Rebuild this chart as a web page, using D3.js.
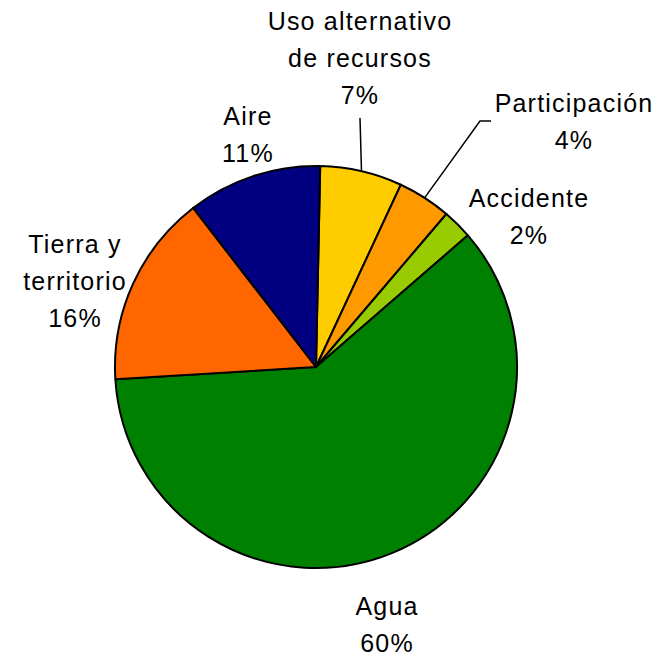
<!DOCTYPE html>
<html>
<head>
<meta charset="utf-8">
<script src="https://cdn.jsdelivr.net/npm/d3@7"></script>
<style>
    body { margin: 0; background: #fff; }
    svg text { font-family: "Liberation Sans", Arial, sans-serif; font-size: 25px; letter-spacing: 1.2px; fill: #000; }
</style>
</head>
<body>
<div class="visual"></div>
<script>
// data, clockwise from 12 o'clock
const categories = ["Uso alternativo de recursos", "Participación", "Accidente", "Agua", "Tierra y territorio", "Aire"];
const values = [6.6, 4.3, 2.4, 60.4, 15.5, 10.8];
const pctLabels = ["7%", "4%", "2%", "60%", "16%", "11%"];
const labelLines = [["Uso alternativo", "de recursos"], ["Participación"], ["Accidente"], ["Agua"], ["Tierra y", "territorio"], ["Aire"]];
const colors = ["#FFCC00", "#FF9900", "#99CC00", "#008000", "#FF6600", "#000080"];

// layout
const width = 659, height = 656;
const cx = 316, cy = 367, radius = 201;
const startDeg = 1.2;
const lineH = 37;
// first-baseline anchor of each label (x centre, y)
const labelAt = [[360, 30], [574, 112], [529, 207], [387, 615], [75, 253], [248, 125]];
// leader lines: index -> bend points after the slice edge
const leaders = { 0: [[360, 118]], 1: [[480, 121], [491, 121]] };

function display() {
    const svg = d3.select(".visual")
        .append("svg")
        .attr("width", width)
        .attr("height", height);

    const g = svg.append("g")
        .attr("transform", `translate(${cx}, ${cy})`);

    const start = startDeg * Math.PI / 180;
    const pie = d3.pie().sort(null).value(d => d)
        .startAngle(start).endAngle(start + 2 * Math.PI);
    const arcs = pie(values);

    const arc = d3.arc().innerRadius(0).outerRadius(radius);

    g.selectAll("path.slice")
        .data(arcs)
        .enter()
        .append("path")
        .attr("class", "slice")
        .attr("d", arc)
        .attr("fill", (d, i) => colors[i])
        .attr("stroke", "#000")
        .attr("stroke-width", 2)
        .attr("stroke-linejoin", "round");

    // leader lines from the slice edge at its mid angle
    Object.keys(leaders).forEach(k => {
        const d = arcs[+k];
        const mid = (d.startAngle + d.endAngle) / 2;
        const p0 = [cx + Math.sin(mid) * radius, cy - Math.cos(mid) * radius];
        const pts = [p0].concat(leaders[k]);
        svg.append("path")
            .attr("d", d3.line()(pts))
            .attr("fill", "none")
            .attr("stroke", "#000")
            .attr("stroke-width", 1.5);
    });

    const labels = svg.selectAll("text.lbl")
        .data(arcs)
        .enter()
        .append("text")
        .attr("class", "lbl")
        .attr("text-anchor", "middle")
        .attr("x", (d, i) => labelAt[i][0])
        .attr("y", (d, i) => labelAt[i][1]);

    labels.each(function(d, i) {
        const t = d3.select(this);
        const lines = labelLines[i].concat([pctLabels[i]]);
        lines.forEach((ln, j) => {
            t.append("tspan")
                .attr("x", labelAt[i][0])
                .attr("y", labelAt[i][1] + j * lineH)
                .text(ln);
        });
    });
}

window.onload = function() {
    display();
};
</script>
</body>
</html>
